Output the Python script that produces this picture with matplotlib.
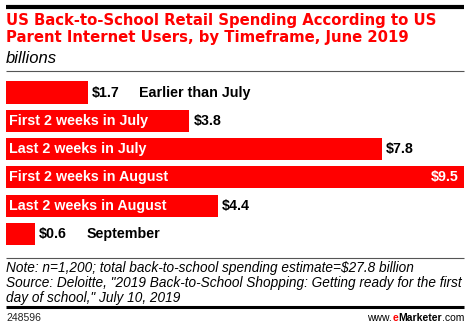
import matplotlib
matplotlib.use("Agg")
import matplotlib.pyplot as plt
from matplotlib.lines import Line2D

categories = ["Earlier than July", "First 2 weeks in July", "Last 2 weeks in July",
              "First 2 weeks in August", "Last 2 weeks in August", "September"]
values = [1.7, 3.8, 7.8, 9.5, 4.4, 0.6]
value_labels = ["$1.7", "$3.8", "$7.8", "$9.5", "$4.4", "$0.6"]

title_lines = ["US Back-to-School Retail Spending According to US",
               "Parent Internet Users, by Timeframe, June 2019"]
subtitle = "billions"
note_lines = ["Note: n=1,200; total back-to-school spending estimate=$27.8 billion",
              "Source: Deloitte, \"2019 Back-to-School Shopping: Getting ready for the first",
              "day of school,\" July 10, 2019"]
chart_id = "248596"

W, H = 470, 328
RED = "#ff0000"
FONT = "Liberation Sans"

fig = plt.figure(figsize=(W / 100, H / 100), dpi=100)
fig.patch.set_facecolor("white")


def fx(px):
    return px / W


def fy(py):
    return 1 - py / H


def hline(y, x0, x1, lw, color):
    fig.add_artist(Line2D([fx(x0), fx(x1)], [fy(y), fy(y)], lw=lw, color=color,
                          transform=fig.transFigure, solid_capstyle="butt"))


# header
hline(7, 6, 464, 3.0, "black")
for k, line in enumerate(title_lines):
    fig.text(fx(6), fy(25.5 + 16.3 * k), line, ha="left", va="baseline", color=RED,
             fontsize=10.75, fontweight="bold", family="DejaVu Sans")
fig.text(fx(6), fy(63), subtitle, ha="left", va="baseline", color="black", fontsize=12,
         style="italic", family=FONT)
hline(70.5, 6, 464, 0.8, "#555555")

# bars
pitch = 28.3
top = 92.5 - pitch / 2
ax = fig.add_axes([fx(6), fy(top + 6 * pitch), fx(464) - fx(6), 6 * pitch / H])
ax.set_xlim(0, max(values))
ax.set_ylim(len(values) - 0.5, -0.5)
ax.axis("off")
ypos = list(range(len(values)))
bars = ax.barh(ypos, values, height=0.78, color=RED, edgecolor="none")

fig.canvas.draw()
renderer = fig.canvas.get_renderer()
lab_kw = dict(fontsize=10.3, fontweight="bold", family=FONT, va="center")
for i, (v, cat, vl) in enumerate(zip(values, categories, value_labels)):
    bar_end_px = ax.transData.transform((v, 0))[0]
    right_px = ax.transData.transform((ax.get_xlim()[1], 0))[0]
    # category name inside the bar when it fits
    t = ax.annotate(cat, (0, i), xytext=(2.2, 0), textcoords="offset points",
                    color="white", ha="left", **lab_kw)
    ext = t.get_window_extent(renderer)
    inside = ext.x1 + 4 < bar_end_px
    if inside:
        # value label after the bar end, or inside when it would overflow
        tv = ax.annotate(vl, (v, i), xytext=(3, 0), textcoords="offset points",
                         color="black", ha="left", **lab_kw)
        e2 = tv.get_window_extent(renderer)
        if e2.x1 > right_px:
            tv.remove()
            ax.annotate(vl, (v, i), xytext=(-4, 0), textcoords="offset points",
                        color="white", ha="right", **lab_kw)
    else:
        t.remove()
        tv = ax.annotate(vl, (v, i), xytext=(3, 0), textcoords="offset points",
                         color="black", ha="left", **lab_kw)
        e2 = tv.get_window_extent(renderer)
        x_off = (e2.x1 - bar_end_px) * 72 / fig.dpi + 14
        ax.annotate(cat, (v, i), xytext=(x_off, 0), textcoords="offset points",
                    color="black", ha="left", **lab_kw)

# footer
hline(258, 6, 464, 0.8, "#555555")
for k, line in enumerate(note_lines):
    fig.text(fx(6), fy(272 + 15 * k), line, ha="left", va="baseline", color="black",
             fontsize=9.8, style="italic", family=FONT)
hline(307, 6, 464, 2.2, "black")
fig.text(fx(6), fy(318), chart_id, ha="left", va="center", color="#222222",
         fontsize=7.5, family=FONT)

# site name with the red "e"
parts = [("www.", "black", "normal"), ("e", RED, "bold"),
         ("Marketer", "black", "bold"), (".com", "black", "normal")]
fig.canvas.draw()
texts = []
for s, c, w in parts:
    texts.append(fig.text(0, fy(318), s, ha="left", va="center", color=c,
                          fontsize=7.5, fontweight=w, family=FONT))
widths = [t.get_window_extent(renderer).width for t in texts]
x = 464 - sum(widths)
for t, wd in zip(texts, widths):
    t.set_x(fx(x))
    x += wd

fig.savefig("out.png", dpi=100, facecolor="white")
